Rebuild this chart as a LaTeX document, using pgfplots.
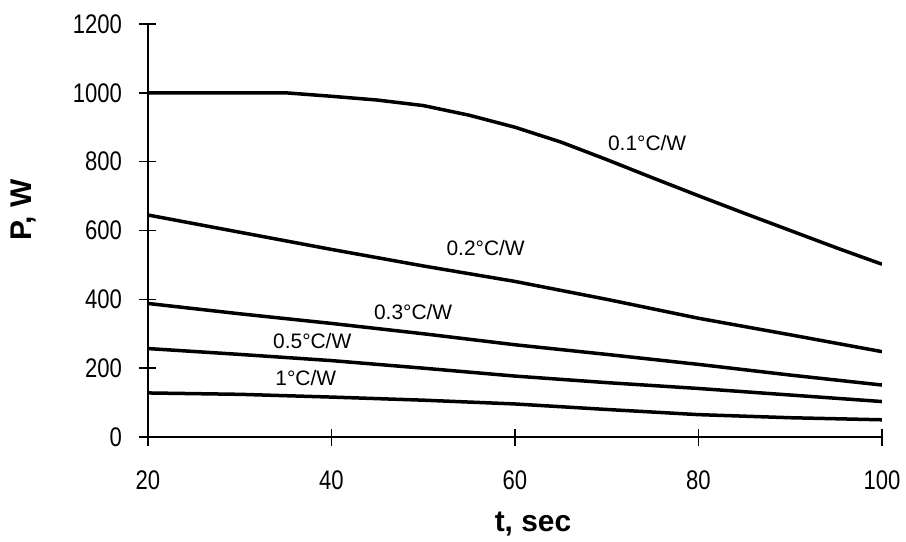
\documentclass[border=0pt]{standalone}
\usepackage{fontspec}
\setmainfont{Liberation Sans}
\usepackage{pgfplots}
\pgfplotsset{compat=1.18}
\begin{document}
\begin{tikzpicture}
\begin{axis}[
  name=ax, at={(0,0)}, anchor=south west,
  scale only axis, width=734bp, height=413bp,
  xmin=20, xmax=100, ymin=0, ymax=1200,
  axis x line*=bottom, axis y line*=left,
  axis line style={-, line width=1.6bp, black},
  xtick={20,40,60,80,100}, ytick={0,200,400,600,800,1000,1200},
  tick align=center, major tick length=17bp,
  tick style={line width=1.6bp, black},
  /pgf/number format/1000 sep={},
  xticklabel={\scalebox{0.82}[1]{\pgfmathprintnumber[assume math mode=true]{\tick}}},
  yticklabel={\scalebox{0.82}[1]{\pgfmathprintnumber[assume math mode=true]{\tick}}},
  ticklabel style={font=\fontsize{27}{30}\selectfont},
  xticklabel style={yshift=-22bp},
  yticklabel style={xshift=-14bp},
  xlabel={t, sec},
  ylabel={P, W},
  xlabel style={at={(axis description cs:0.5245,-0.212)}, anchor=center, font=\fontsize{30}{34}\selectfont\bfseries},
  ylabel style={at={(axis description cs:-0.170,0.55)}, anchor=center, font=\fontsize{30}{34}\selectfont\bfseries},
]
% 0.1 C/W
\addplot[black, line width=3.5bp] coordinates {(20,1000) (35,1000) (40,990) (45,979) (50,963) (55,935) (60,900) (65,857) (70,806) (75,753) (80,701) (85,650) (90,600) (95,550) (100,502)};
% 0.2 C/W
\addplot[black, line width=3.5bp] coordinates {(20,645) (30,595) (40,545) (50,497) (60,452) (70,400) (80,345) (90,297) (100,248)};
% 0.3 C/W
\addplot[black, line width=3.5bp] coordinates {(20,388) (30,358) (40,330) (50,300) (60,268) (70,240) (80,211) (90,180) (100,151)};
% 0.5 C/W
\addplot[black, line width=3.5bp] coordinates {(20,257) (30,240) (40,222) (50,200) (60,177) (70,158) (80,141) (90,122) (100,103)};
% 1 C/W
\addplot[black, line width=3.5bp] coordinates {(20,128) (30,124) (40,116) (50,107) (60,96) (70,80) (80,65) (90,56) (100,50)};
\node[font=\fontsize{21}{24}\selectfont] at (axis cs:74.4,854) {0.1°C/W};
\node[font=\fontsize{21}{24}\selectfont] at (axis cs:56.8,549) {0.2°C/W};
\node[font=\fontsize{21}{24}\selectfont] at (axis cs:48.9,363) {0.3°C/W};
\node[font=\fontsize{21}{24}\selectfont] at (axis cs:37.9,279) {0.5°C/W};
\node[font=\fontsize{21}{24}\selectfont] at (axis cs:37.2,171) {1°C/W};
\end{axis}
\pgfresetboundingbox
\path (-148bp,-105bp) rectangle (758bp,437bp);
\end{tikzpicture}
\end{document}
